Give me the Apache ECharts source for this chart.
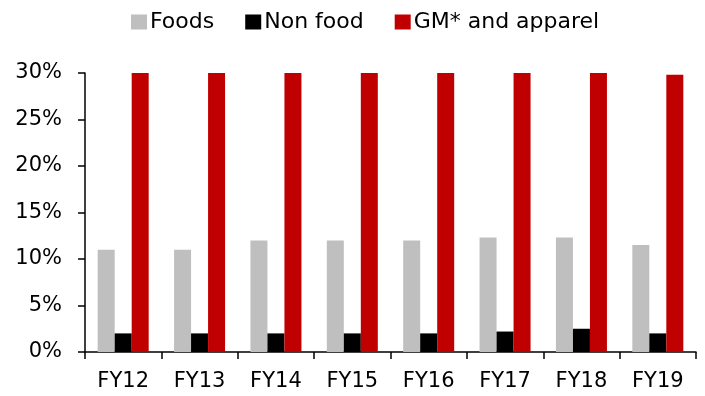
<!DOCTYPE html>
<html>
<head>
<meta charset="utf-8">
<script src="https://cdn.jsdelivr.net/npm/echarts@6/dist/echarts.min.js"></script>
<style>
  html, body { margin: 0; padding: 0; background: #fff; }
  #chart { width: 705px; height: 396px; }
</style>
</head>
<body>
<div id="chart"></div>
<script>
// Fiscal years on the category axis
const years = ['FY12', 'FY13', 'FY14', 'FY15', 'FY16', 'FY17', 'FY18', 'FY19'];
// Shares by merchandise segment, in percent
const foods = [11, 11, 12, 12, 12, 12.3, 12.3, 11.5];
const nonFood = [2, 2, 2, 2, 2, 2.2, 2.5, 2];
const gmApparel = [30, 30, 30.1, 30, 30, 30, 30.1, 29.8];
// Value axis tick settings
const yMin = 0, yMax = 30, yStep = 5;

const FONT = '"DejaVu Sans", sans-serif';
const chart = echarts.init(document.getElementById('chart'), null, { renderer: 'canvas' });

const bar = (name, data, color) => ({
  name, type: 'bar', data, barWidth: 17, barGap: '0%',
  itemStyle: { color }
});

chart.setOption({
  animation: false,
  textStyle: { fontFamily: FONT },
  legend: {
    top: 6, left: 126,
    itemWidth: 16, itemHeight: 15, itemGap: 31,
    icon: 'rect',
    textStyle: { fontSize: 22, color: '#000', fontFamily: FONT, padding: [0, 0, 0, -2] },
    data: ['Foods', 'Non food', 'GM* and apparel']
  },
  grid: { left: 85, right: 9, top: 73, bottom: 44 },
  xAxis: {
    type: 'category', data: years,
    axisLine: { lineStyle: { color: '#000', width: 1.5 } },
    axisTick: { show: true, length: 7, lineStyle: { color: '#000', width: 1.5 } },
    axisLabel: { fontSize: 21, color: '#000', margin: 19, fontFamily: FONT }
  },
  yAxis: {
    type: 'value', min: yMin, max: yMax, interval: yStep,
    splitLine: { show: false },
    axisLine: { show: true, lineStyle: { color: '#000', width: 1.5 } },
    axisTick: { show: true, length: 7, lineStyle: { color: '#000', width: 1.5 } },
    axisLabel: { fontSize: 21, color: '#000', margin: 23, fontFamily: FONT, formatter: v => v + '%' }
  },
  series: [
    bar('Foods', foods, '#bfbfbf'),
    bar('Non food', nonFood, '#000000'),
    bar('GM* and apparel', gmApparel, '#c00000')
  ]
});
</script>
</body>
</html>
